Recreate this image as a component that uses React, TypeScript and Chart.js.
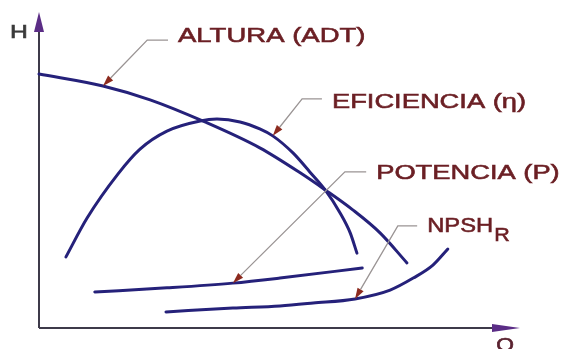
import React, { useEffect, useRef } from "react";
import { Chart, registerables } from "chart.js";

Chart.register(...registerables);

// Caudal Q (0-100) y altura relativa H (0-100)
const alturaQ = [0, 13.3, 23.1, 34.5, 45.9, 54.3, 59.5, 65.3, 70.9, 76.5];
const alturaH = [80.4, 76.6, 72.2, 65.2, 57.0, 49.1, 43.7, 37.3, 30.1, 20.6];

const eficQ = [5.6, 10.0, 16.4, 21.0, 26.6, 33.5, 37.0, 41.8, 45.9, 48.6, 52.8, 56.3, 59.5, 62.6, 64.7, 66.1];
const eficH = [22.5, 34.8, 48.7, 56.6, 62.3, 65.5, 66.1, 65.2, 63.0, 60.8, 55.4, 49.4, 43.7, 36.4, 30.1, 23.7];

const potQ = [11.6, 26.6, 40.3, 50.1, 67.2];
const potH = [11.4, 12.7, 14.2, 15.8, 19.0];

const npshQ = [26.4, 40.3, 50.1, 57.0, 65.7, 73.0, 77.8, 81.9, 85.0];
const npshH = [5.1, 6.3, 7.0, 7.9, 9.2, 12.0, 15.8, 19.9, 25.0];

// Etiquetas con líneas guía
const labelText = ["ALTURA (ADT)", "EFICIENCIA (η)", "POTENCIA (P)", "NPSH"];
const labelSub = ["", "", "", "R"];
const labelTipIndex = [1, 9, 2, 4];
const labelElbowQ = [22.5, 54.7, 63.6, 74.6];
const labelElbowH = [91.1, 72.5, 49.4, 32.3];
const labelQ = [28.9, 60.9, 70.1, 80.7];
const labelH = [92.2, 71.6, 48.9, 32.1];
const labelStretch = [1.31, 1.3, 1.3, 1.13];

const axisTitleX = "Q";
const axisTitleY = "H";

const toPts = (xs: number[], ys: number[]) => xs.map((x, i) => ({ x, y: ys[i] }));

const CURVE = "#25217a";
const TEXT = "#6b1f24";
const FONT = "'Liberation Sans', Arial, sans-serif";

const drawText = (ctx: CanvasRenderingContext2D, t: string, x: number, y: number, color: string) => {
  ctx.fillStyle = color;
  ctx.strokeStyle = color;
  ctx.lineWidth = 0.6;
  ctx.fillText(t, x, y);
  ctx.strokeText(t, x, y);
};

const annotPlugin = {
  id: "annot",
  beforeDatasetsDraw(chart: any) {
    const ctx = chart.ctx as CanvasRenderingContext2D;
    const a = chart.chartArea;
    ctx.save();
    // Y axis
    ctx.strokeStyle = "#3e3a4a";
    ctx.lineWidth = 2;
    ctx.beginPath();
    ctx.moveTo(a.left, a.bottom);
    ctx.lineTo(a.left, a.top + 14);
    ctx.stroke();
    // X axis
    ctx.beginPath();
    ctx.moveTo(a.left, a.bottom);
    ctx.lineTo(a.right - 14, a.bottom);
    ctx.stroke();
    // arrowheads
    ctx.fillStyle = "#5b2d86";
    ctx.beginPath();
    ctx.moveTo(a.left, a.top);
    ctx.lineTo(a.left - 5, a.top + 20);
    ctx.lineTo(a.left + 5, a.top + 20);
    ctx.closePath();
    ctx.fill();
    ctx.beginPath();
    ctx.moveTo(a.right, a.bottom);
    ctx.lineTo(a.right - 28, a.bottom - 4);
    ctx.lineTo(a.right - 28, a.bottom + 4);
    ctx.closePath();
    ctx.fill();
    // axis titles
    ctx.font = "19px " + FONT;
    ctx.textBaseline = "middle";
    ctx.textAlign = "center";
    ctx.save();
    ctx.translate(a.left - 20, a.top + 21);
    ctx.scale(1.3, 1);
    drawText(ctx, axisTitleY, 0, 0, "#3a3a3a");
    ctx.restore();
    ctx.save();
    ctx.textBaseline = "top";
    ctx.translate(a.right - 15, a.bottom + 8);
    ctx.scale(1.2, 1);
    drawText(ctx, axisTitleX, 0, 0, "#5a2230");
    ctx.restore();
    ctx.restore();
  },
  afterDatasetsDraw(chart: any) {
    const ctx = chart.ctx as CanvasRenderingContext2D;
    const xs = chart.scales.x;
    const ys = chart.scales.y;
    ctx.save();
    labelText.forEach((txt, i) => {
      const pt = chart.getDatasetMeta(i).data[labelTipIndex[i]];
      const tx = pt.x;
      const ty = pt.y;
      const ex = xs.getPixelForValue(labelElbowQ[i]);
      const ey = ys.getPixelForValue(labelElbowH[i]);
      const lx = xs.getPixelForValue(labelQ[i]);
      const ly = ys.getPixelForValue(labelH[i]);
      const ang = Math.atan2(ty - ey, tx - ex);
      const len = 11;
      const bx = tx - Math.cos(ang) * len;
      const by = ty - Math.sin(ang) * len;
      // leader
      ctx.strokeStyle = "#9a9494";
      ctx.lineWidth = 1.3;
      ctx.beginPath();
      ctx.moveTo(lx - 10, ey);
      ctx.lineTo(ex, ey);
      ctx.lineTo(bx, by);
      ctx.stroke();
      // arrowhead
      ctx.fillStyle = "#8c2a1e";
      const px = -Math.sin(ang) * 3.5;
      const py = Math.cos(ang) * 3.5;
      ctx.beginPath();
      ctx.moveTo(tx, ty);
      ctx.lineTo(bx + px, by + py);
      ctx.lineTo(bx - px, by - py);
      ctx.closePath();
      ctx.fill();
      // text
      ctx.save();
      ctx.translate(lx, ly);
      ctx.scale(labelStretch[i], 1);
      ctx.font = "21px " + FONT;
      ctx.textAlign = "left";
      ctx.textBaseline = "middle";
      drawText(ctx, txt, 0, 0, TEXT);
      if (labelSub[i]) {
        const w = ctx.measureText(txt).width;
        ctx.font = "19px " + FONT;
        drawText(ctx, labelSub[i], w + 1, 9, TEXT);
      }
      ctx.restore();
    });
    ctx.restore();
  },
};

export default function App() {
  const ref = useRef<HTMLCanvasElement | null>(null);
  useEffect(() => {
    if (!ref.current) return;
    const common = {
      showLine: true,
      borderColor: CURVE,
      borderWidth: 3,
      pointRadius: 0,
      cubicInterpolationMode: "monotone" as const,
      borderCapStyle: "round" as const,
      fill: false,
      clip: false as any,
    };
    const chart = new Chart(ref.current, {
      type: "scatter",
      data: {
        datasets: [
          { label: "Altura", data: toPts(alturaQ, alturaH), ...common },
          { label: "Eficiencia", data: toPts(eficQ, eficH), ...common },
          { label: "Potencia", data: toPts(potQ, potH), ...common },
          { label: "NPSHR", data: toPts(npshQ, npshH), ...common },
        ],
      },
      options: {
        responsive: false,
        animation: false,
        layout: { padding: { left: 39, right: 42, top: 12, bottom: 21 } },
        scales: {
          x: { type: "linear", min: 0, max: 100, display: false },
          y: { type: "linear", min: 0, max: 100, display: false },
        },
        plugins: { legend: { display: false }, tooltip: { enabled: false } },
      },
      plugins: [annotPlugin],
    });
    return () => chart.destroy();
  }, []);
  return (
    <div style={{ position: "absolute", left: 0, top: 0, width: 562, height: 349, background: "#fff" }}>
      <canvas ref={ref} width={562} height={349} style={{ width: 562, height: 349 }} />
    </div>
  );
}
